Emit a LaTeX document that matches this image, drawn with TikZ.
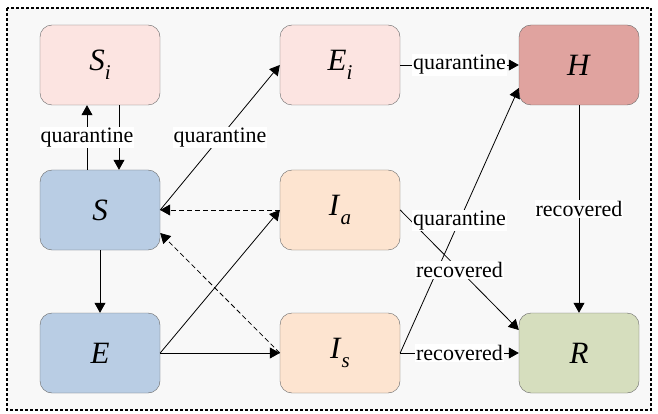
\documentclass[tikz,border=0pt]{standalone}
\usepackage{fontspec}
\setmainfont{LiberationSerif}[Extension=.ttf, UprightFont=*-Regular, ItalicFont=*-Italic, BoldFont=*-Bold]
\usetikzlibrary{calc, positioning, arrows.meta, backgrounds}

\definecolor{pinkfill}{HTML}{FCE4E1}
\definecolor{hfill}{HTML}{E0A39F}
\definecolor{bluefill}{HTML}{B9CDE4}
\definecolor{peachfill}{HTML}{FDE4D0}
\definecolor{greenfill}{HTML}{D6DEBE}
\definecolor{panel}{HTML}{F8F8F8}

% compartment name with italic subscript
\newcommand{\cname}[2]{\textit{#1}\raisebox{-0.3em}{\fontsize{21}{21}\selectfont\textit{#2}}}

\tikzset{
    compartment/.style={draw=black!60, rounded corners=12pt, minimum width=120pt,
        minimum height=80pt, inner sep=0pt, font=\fontsize{31}{36}\selectfont},
    flow/.style={-{Triangle[length=10pt,width=11pt]}, line width=0.8pt},
    backflow/.style={flow, dash pattern=on 5pt off 3pt},
    rate/.style={fill=white, inner sep=1pt, font=\fontsize{22}{24}\selectfont}
}

\begin{document}
\begin{tikzpicture}[x=1pt, y=-1pt]
    % Page and dashed frame
    \useasboundingbox (0,0) rectangle (658,414);
    \fill[white] (0,0) rectangle (658,414);
    \draw[panel, fill=panel] (7,8) rectangle (651,410);
    \draw[line width=1.5pt, dash pattern=on 3pt off 2pt] (7,8) rectangle (651,410);

    % Compartments
    \node[compartment, fill=pinkfill]  (Si) at (100,65)  {\cname{S}{i}};
    \node[compartment, fill=pinkfill]  (Ei) at (340,65)  {\cname{E}{i}};
    \node[compartment, fill=hfill]     (H)  at (579,65)  {\textit{H}};
    \node[compartment, fill=bluefill]  (S)  at (100,210) {\textit{S}};
    \node[compartment, fill=peachfill] (Ia) at (340,210) {\cname{I}{a}};
    \node[compartment, fill=bluefill]  (E)  at (100,353) {\textit{E}};
    \node[compartment, fill=peachfill] (Is) at (340,353) {\cname{I}{s}};
    \node[compartment, fill=greenfill] (R)  at (579,353) {\textit{R}};

    % Susceptible and quarantined susceptible
    \draw[flow] ([xshift=19pt]Si.south) -- ([xshift=19pt]S.north);
    \draw[flow] ([xshift=-13pt]S.north) -- node[rate] {quarantine} ([xshift=-13pt]Si.south);
    \draw[flow] (S.east) -- node[rate] {quarantine} (Ei.west);

    % Infection
    \draw[flow] (S) -- (E);
    \draw[flow] (E.east) -- (Ia.west);
    \draw[flow] (E.east) -- (Is.west);
    \draw[backflow] (Ia.west) -- (S.east);
    \draw[backflow] (Is.west) -- ([yshift=-23pt]S.east);

    % Hospitalisation and recovery
    \draw[flow] (Ei.east) -- node[rate] {quarantine} (H.west);
    \draw[flow] (Ia.east) -- ([yshift=23pt]R.west);
    \draw[flow] (Is.east) -- node[rate] {quarantine} ([yshift=-23pt]H.west);
    \path (Ia.east) -- node[rate] {recovered} ([yshift=23pt]R.west);
    \draw[flow] (Is.east) -- node[rate] {recovered} (R.west);
    \draw[flow] (H) -- node[rate] {recovered} (R);
\end{tikzpicture}
\end{document}
